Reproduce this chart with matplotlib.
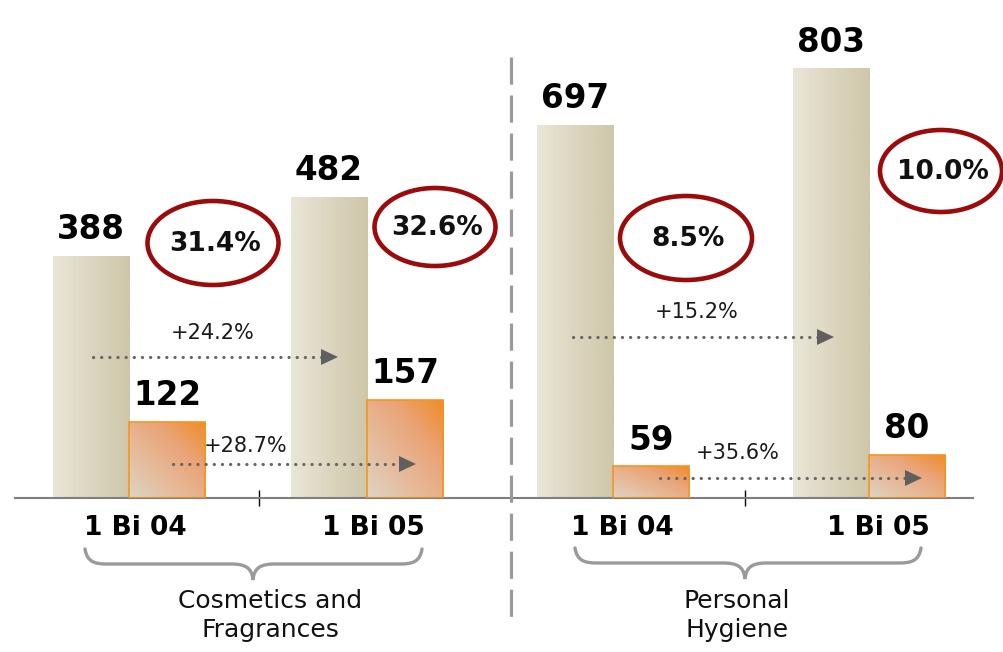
import numpy as np
import matplotlib
matplotlib.use('Agg')
import matplotlib.pyplot as plt
from matplotlib.patches import Ellipse, PathPatch
from matplotlib.path import Path
from matplotlib.colors import LinearSegmentedColormap
from matplotlib.transforms import ScaledTranslation

# ---------------- data ----------------
periods = ['1 Bi 04', '1 Bi 05']
segments = ['Cosmetics and\nFragrances', 'Personal\nHygiene']
cosm_revenue = [388, 482]
cosm_ebitda = [122, 157]
cosm_margin = ['31.4%', '32.6%']
cosm_growth = ['+24.2%', '+28.7%']   # revenue growth, ebitda growth
hyg_revenue = [697, 803]
hyg_ebitda = [59, 80]
hyg_margin = ['8.5%', '10.0%']
hyg_growth = ['+15.2%', '+35.6%']

W, H = 1004, 652
fig = plt.figure(figsize=(W / 100, H / 100), dpi=100)
fig.patch.set_facecolor('white')

beige_cmap = LinearSegmentedColormap.from_list('b', ['#EAE6D7', '#DCD6C0', '#CEC7A9'])
orange_cmap = LinearSegmentedColormap.from_list('o', ['#DDD5C5', '#E6BB9C', '#EAA477', '#F08C25'])

def px_ax(x0, x1):
    return fig.add_axes([x0 / W, (H - 498) / H, (x1 - x0) / W, 498 / H])

def grad_bar(ax, bar, cmap, diagonal):
    x0, y0 = bar.get_x(), bar.get_y()
    w, h = bar.get_width(), bar.get_height()
    n = 64
    xx, yy = np.meshgrid(np.linspace(0, 1, n), np.linspace(0, 1, n))
    z = (xx + yy) / 2 if diagonal else xx
    im = ax.imshow(z, cmap=cmap, extent=[x0, x0 + w, y0, y0 + h], origin='lower',
                   aspect='auto', zorder=2, interpolation='bilinear')
    im.set_clip_path(bar)

def panel(ax, revenue, ebitda, xlim, ytop, bw, minor_x, lbl_shift):
    x = np.arange(len(revenue))
    b1 = ax.bar(x - bw / 2, revenue, bw, color='none', edgecolor='none', zorder=3)
    b2 = ax.bar(x + bw / 2, ebitda, bw, color='none', edgecolor='#F7941D', linewidth=1.2, zorder=3)
    for b in b1:
        grad_bar(ax, b, beige_cmap, False)
    for b in b2:
        grad_bar(ax, b, orange_cmap, True)
    for xi, v in zip(x, revenue):
        ax.annotate(f'{v}', (xi - bw / 2, v), xytext=(0, 7), textcoords='offset points',
                    ha='center', va='bottom', fontsize=23.5, fontweight='bold', color='black')
    for xi, v in zip(x, ebitda):
        ax.annotate(f'{v}', (xi + bw / 2, v), xytext=(0, 7), textcoords='offset points',
                    ha='center', va='bottom', fontsize=23.5, fontweight='bold', color='black')
    ax.set_xlim(*xlim)
    ax.set_ylim(0, ytop)
    ax.set_xticks(x)
    ax.set_xticklabels(periods, fontsize=19, fontweight='bold')
    ax.tick_params(axis='x', which='major', length=0, pad=12)
    off = ScaledTranslation(lbl_shift / 100, 0, fig.dpi_scale_trans)
    for lbl in ax.get_xticklabels():
        lbl.set_transform(lbl.get_transform() + off)
    ax.set_xticks([minor_x], minor=True)
    ax.tick_params(axis='x', which='minor', direction='inout', length=12, width=1, color='black')
    ax.set_yticks([])
    for s in ['top', 'left', 'right']:
        ax.spines[s].set_visible(False)
    ax.spines['bottom'].set_color('#7F7F7F')
    ax.spines['bottom'].set_linewidth(1.5)
    ax.patch.set_alpha(0)

axL = px_ax(15, 511)
panel(axL, cosm_revenue, cosm_ebitda, (-0.479, 1.605), 797, 0.32, 0.546, 6)
axR = px_ax(511, 973)
panel(axR, hyg_revenue, hyg_ebitda, (-0.398, 1.406), 931, 0.297, 0.516, 9)

# ---------------- overlay (pixel coordinates) ----------------
ov = fig.add_axes([0, 0, 1, 1])
ov.set_xlim(0, W)
ov.set_ylim(H, 0)
ov.axis('off')
ov.patch.set_alpha(0)

# separator
ov.plot([511, 511], [57, 626], color='#9A9A9A', lw=2.3, linestyle=(0, (8.5, 3.4)),
        solid_capstyle='butt')

# margin ellipses
margins = cosm_margin + hyg_margin
ell = [(213, 243, 131, 84), (435, 227, 121, 78), (686, 238, 132, 84), (941, 171, 122, 82)]
for (cx, cy, ew, eh), m in zip(ell, margins):
    ov.add_patch(Ellipse((cx, cy), ew, eh, fill=False, edgecolor='#9B0B0B', lw=3.3, zorder=5))
    ov.text(cx + 2, cy + 1, m, ha='center', va='center', fontsize=19, fontweight='bold',
            color='#111111', zorder=6)

# growth arrows
growths = cosm_growth + hyg_growth
arrows = [(93, 338, 357, 213, 333), (173, 416, 464, 246, 446),
          (573, 834, 337, 697, 312), (660, 922, 478, 738, 453)]
for (xa, xb, y, tx, ty), g in zip(arrows, growths):
    ov.plot([xa, xb - 14], [y, y], color='#666666', lw=2.3, linestyle=(0, (0.05, 2.5)),
            dash_capstyle='round', zorder=7)
    ov.fill([xb - 17, xb, xb - 17], [y - 8, y, y + 8], color='#5F5F5F', zorder=7, lw=0)
    ov.text(tx, ty, g, ha='center', va='center', fontsize=15, color='#1A1A1A', zorder=7)

# braces
def brace(x0, x1, xm, ytop, ymid, ytip, r=22):
    verts = [(x0, ytop),
             (x0 + 2, ymid - 2), (x0 + r * 0.45, ymid), (x0 + r, ymid),
             (xm - r, ymid),
             (xm - r * 0.4, ymid), (xm - 1, ymid + 3), (xm, ytip),
             (xm + 1, ymid + 3), (xm + r * 0.4, ymid), (xm + r, ymid),
             (x1 - r, ymid),
             (x1 - r * 0.45, ymid), (x1 - 2, ymid - 2), (x1, ytop)]
    codes = [Path.MOVETO] + [Path.CURVE4] * 3 + [Path.LINETO] + [Path.CURVE4] * 6 + \
            [Path.LINETO] + [Path.CURVE4] * 3
    ov.add_patch(PathPatch(Path(verts, codes), fill=False, edgecolor='#9A9A9A', lw=2.4,
                           capstyle='round'))

brace(85, 422, 253, 549, 564, 580)
brace(575, 921, 745, 548, 563, 579)

for cx, s in zip([270, 737], segments):
    ov.text(cx, 589, s, ha='center', va='top', fontsize=18, color='#111111', linespacing=1.25)

fig.savefig('out.png', dpi=100)
